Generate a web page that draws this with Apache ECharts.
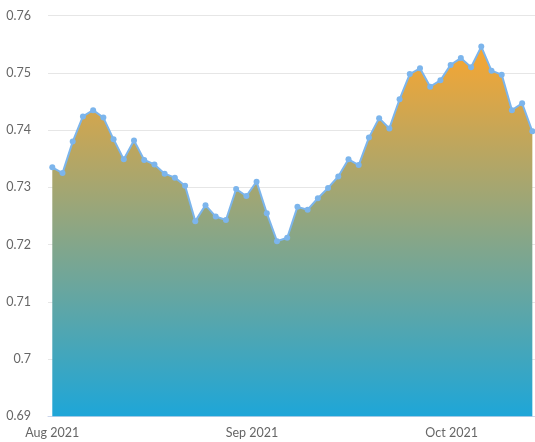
<!DOCTYPE html>
<html>
<head>
<meta charset="utf-8">
<script src="https://cdn.jsdelivr.net/npm/echarts@6/dist/echarts.min.js"></script>
<style>
html,body{margin:0;padding:0;background:#fff;}
#chart{width:535px;height:442px;}
</style>
</head>
<body>
<div id="chart"></div>
<script>
const values = [
  0.7335, 0.7325, 0.7380, 0.7424, 0.7435, 0.7422, 0.7384, 0.7349, 0.7382, 0.7348,
  0.7340, 0.7324, 0.7317, 0.7303, 0.7241, 0.7269, 0.7249, 0.7243, 0.7297, 0.7285,
  0.7310, 0.7255, 0.7206, 0.7212, 0.7266, 0.7261, 0.7281, 0.7299, 0.7319, 0.7349,
  0.7339, 0.7387, 0.7421, 0.7403, 0.7454, 0.7498, 0.7508, 0.7476, 0.7487, 0.7514,
  0.7526, 0.7510, 0.7546, 0.7504, 0.7497, 0.7435, 0.7447, 0.7398
];
const monthLabels = ['Aug 2021', 'Sep 2021', 'Oct 2021'];
const yTicks = [0.69, 0.70, 0.71, 0.72, 0.73, 0.74, 0.75, 0.76];

const seriesData = values.map((v, i) => [i, v]);
const monthPos = [0, 19.55, 39.1];

const chart = echarts.init(document.getElementById('chart'));
chart.setOption({
  animation: false,
  grid: { left: 48, right: 0, top: 15.7, bottom: 25.7, containLabel: false },
  xAxis: {
    type: 'value',
    min: -0.42,
    max: 47.26,
    axisLine: { show: true, lineStyle: { color: '#ccd6eb', width: 1 } },
    axisTick: { show: false },
    splitLine: { show: false },
    axisLabel: {
      customValues: monthPos,
      formatter: function (val) {
        const idx = monthPos.indexOf(val);
        return idx >= 0 ? monthLabels[idx] : '';
      },
      color: '#666666',
      fontFamily: 'Lato',
      fontSize: 12.5,
      margin: 10,
      showMinLabel: true,
      showMaxLabel: true
    }
  },
  yAxis: {
    type: 'value',
    min: yTicks[0],
    max: yTicks[yTicks.length - 1],
    interval: 0.01,
    axisLine: { show: false },
    axisTick: { show: false },
    splitLine: { show: true, lineStyle: { color: '#e6e6e6', width: 1 } },
    axisLabel: {
      color: '#666666',
      fontFamily: 'Lato',
      fontSize: 12.5,
      margin: 17,
      formatter: function (v) { return String(parseFloat(v.toFixed(2))); }
    }
  },
  series: [{
    type: 'line',
    data: seriesData,
    symbol: 'circle',
    symbolSize: 6,
    showSymbol: true,
    itemStyle: { color: '#7cb5ec' },
    lineStyle: { color: '#7cb5ec', width: 2 },
    areaStyle: {
      origin: 'start',
      opacity: 1,
      color: new echarts.graphic.LinearGradient(0, 0, 0, 1, [
        { offset: 0, color: '#f8a631' },
        { offset: 1, color: '#1ea6d8' }
      ])
    },
    z: 2
  }]
});
</script>
</body>
</html>
